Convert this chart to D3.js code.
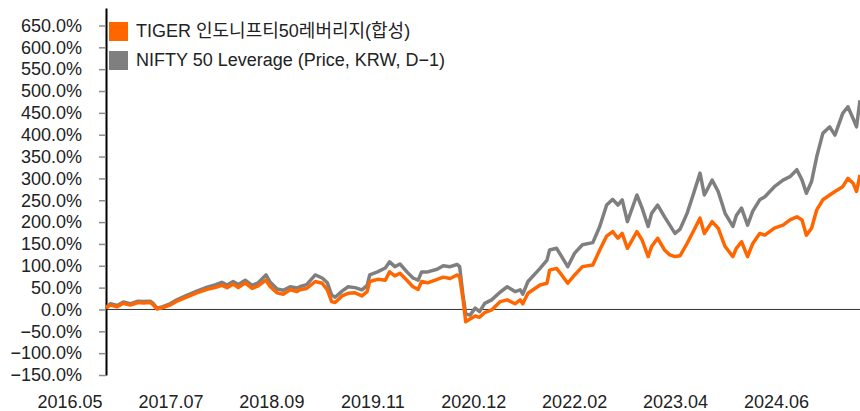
<!DOCTYPE html>
<html><head><meta charset="utf-8">
<script src="https://cdn.jsdelivr.net/npm/d3@7"></script>
<style>
body{margin:0;background:#fff;}
svg{display:block;}
text{font-family:"Liberation Sans",Arial,"Noto Sans CJK KR",sans-serif;}
</style>
</head><body>
<svg id="c" width="860" height="411"></svg>
<script>
// Dates as decimal years
const dates = [
2016.33,2016.38,2016.46,2016.53,2016.61,2016.70,2016.76,2016.84,2016.87,2016.92,2016.98,
2017.07,2017.15,2017.27,2017.38,2017.50,2017.59,2017.67,2017.73,2017.80,2017.86,2017.94,
2018.02,2018.09,2018.18,2018.23,2018.31,2018.38,2018.46,2018.54,2018.57,2018.65,2018.75,2018.83,2018.89,2018.94,2018.98,
2019.06,2019.13,2019.21,2019.29,2019.35,2019.38,2019.47,2019.56,2019.61,2019.67,2019.73,2019.81,2019.88,2019.94,2019.98,
2020.05,2020.16,2020.23,2020.31,2020.39,2020.42,2020.46,2020.49,2020.54,2020.60,2020.65,2020.71,2020.79,2020.89,2020.97,
2021.06,2021.12,2021.15,2021.21,2021.35,2021.43,2021.46,2021.54,2021.60,2021.67,2021.75,2021.84,2021.96,
2022.04,2022.12,2022.19,2022.25,2022.30,2022.36,2022.47,2022.53,2022.60,2022.64,2022.71,2022.79,2022.85,2022.91,2022.97,
2023.05,2023.12,2023.20,2023.25,2023.34,2023.41,2023.49,2023.58,2023.62,2023.68,2023.75,2023.81,2023.89,2023.95,
2024.06,2024.16,2024.24,2024.32,2024.38,2024.43,2024.49,2024.55,2024.62,2024.70,2024.76,2024.85,2024.91,2024.97,2025.01,2025.05
];
// TIGER 인도니프티50레버리지(합성), cumulative return %
const tiger = [
3,10,6,14,10,16,15,16,12,1,4,
10,19,29,38,46,50,55,50,58,50,61,
48,54,67,52,38,35,45,41,45,48,64,60,45,18,16,
31,37,38,31,41,64,69,67,86,77,83,67,52,46,64,
61,69,74,71,79,75,22,-28,-22,-15,-18,-7,-1,18,22,
13,22,13,37,56,60,90,94,79,60,79,98,102,
136,168,178,163,174,140,178,159,121,144,163,136,125,121,123,
151,178,209,174,201,186,144,121,140,155,121,151,174,170,
186,193,205,212,205,170,186,228,251,262,270,281,300,289,270,308
];
// NIFTY 50 Leverage (Price, KRW, D-1), cumulative return %
const nifty = [
5,13,9,17,13,19,18,19,15,3,6,
13,22,33,42,51,56,62,56,64,57,67,
55,61,79,62,47,44,52,49,52,57,79,72,61,33,28,
42,52,50,45,55,79,86,95,109,98,104,86,72,67,86,
86,92,100,98,103,98,30,-10,-13,3,-5,14,22,40,52,
41,45,35,64,94,113,136,140,121,98,129,148,153,
190,239,252,239,251,201,262,232,190,220,239,212,193,174,184,
220,262,312,262,296,270,220,190,215,232,193,225,251,258,
281,296,304,320,296,266,293,350,403,418,399,449,464,437,418,479
];
const seriesNames = ["TIGER 인도니프티50레버리지(합성)", "NIFTY 50 Leverage (Price, KRW, D\u22121)"];
const seriesColors = ["#FF6600", "#7F7F7F"];
const yTickValues = [-150,-100,-50,0,50,100,150,200,250,300,350,400,450,500,550,600,650];
const xLabels = ["2016.05","2017.07","2018.09","2019.11","2020.12","2022.02","2023.04","2024.06"];

const svg = d3.select("#c");
const x = d3.scaleLinear().domain(d3.extent(dates)).range([106, 860]);
const y = d3.scaleLinear().domain([-150, 690]).range([375, 8]);
const xl = d3.scalePoint().domain(xLabels).range([69.5, 776]);

// zero line
svg.append("line")
  .attr("x1", x.range()[0]).attr("x2", x.range()[1])
  .attr("y1", y(0)).attr("y2", y(0))
  .attr("stroke", "#333").attr("stroke-width", 1);

// y axis
const fmt = d3.format(".1f");
const ya = svg.append("g").attr("transform", "translate(106,0)")
  .call(d3.axisLeft(y).tickValues(yTickValues).tickSize(7).tickSizeOuter(0).tickPadding(17)
    .tickFormat(d => fmt(d) + "%"));
ya.select(".domain").attr("stroke", "#000").attr("stroke-width", 2);
ya.selectAll(".tick line").attr("stroke", "#8c8c8c").attr("stroke-width", 1.5);
ya.selectAll(".tick text").attr("font-size", 18).attr("fill", "#222")
  .attr("font-family", "'Liberation Sans',Arial,sans-serif");

// x labels
const xa = svg.append("g").attr("transform", "translate(0,390.5)")
  .call(d3.axisBottom(xl).tickSize(0).tickPadding(5));
xa.select(".domain").remove();
xa.selectAll(".tick text").attr("font-size", 18).attr("fill", "#222")
  .attr("font-family", "'Liberation Sans',Arial,sans-serif");

// lines
const rows = dates.map((d, i) => ({d, t: tiger[i], n: nifty[i]}));
const lineN = d3.line().x(r => x(r.d)).y(r => y(r.n));
const lineT = d3.line().x(r => x(r.d)).y(r => y(r.t));
svg.append("path").datum(rows).attr("d", lineN).attr("fill", "none")
  .attr("stroke", seriesColors[1]).attr("stroke-width", 3.5).attr("stroke-linejoin", "round");
svg.append("path").datum(rows).attr("d", lineT).attr("fill", "none")
  .attr("stroke", seriesColors[0]).attr("stroke-width", 3.5).attr("stroke-linejoin", "round");

// legend
const lg = svg.append("g");
seriesNames.forEach((name, i) => {
  lg.append("rect").attr("x", 109).attr("y", 22 + i * 29).attr("width", 19).attr("height", 19)
    .attr("fill", seriesColors[i]);
  lg.append("text").attr("x", 136).attr("y", 37 + i * 29).attr("font-size", 18).attr("fill", "#222")
    .text(name);
});
</script>
</body></html>
